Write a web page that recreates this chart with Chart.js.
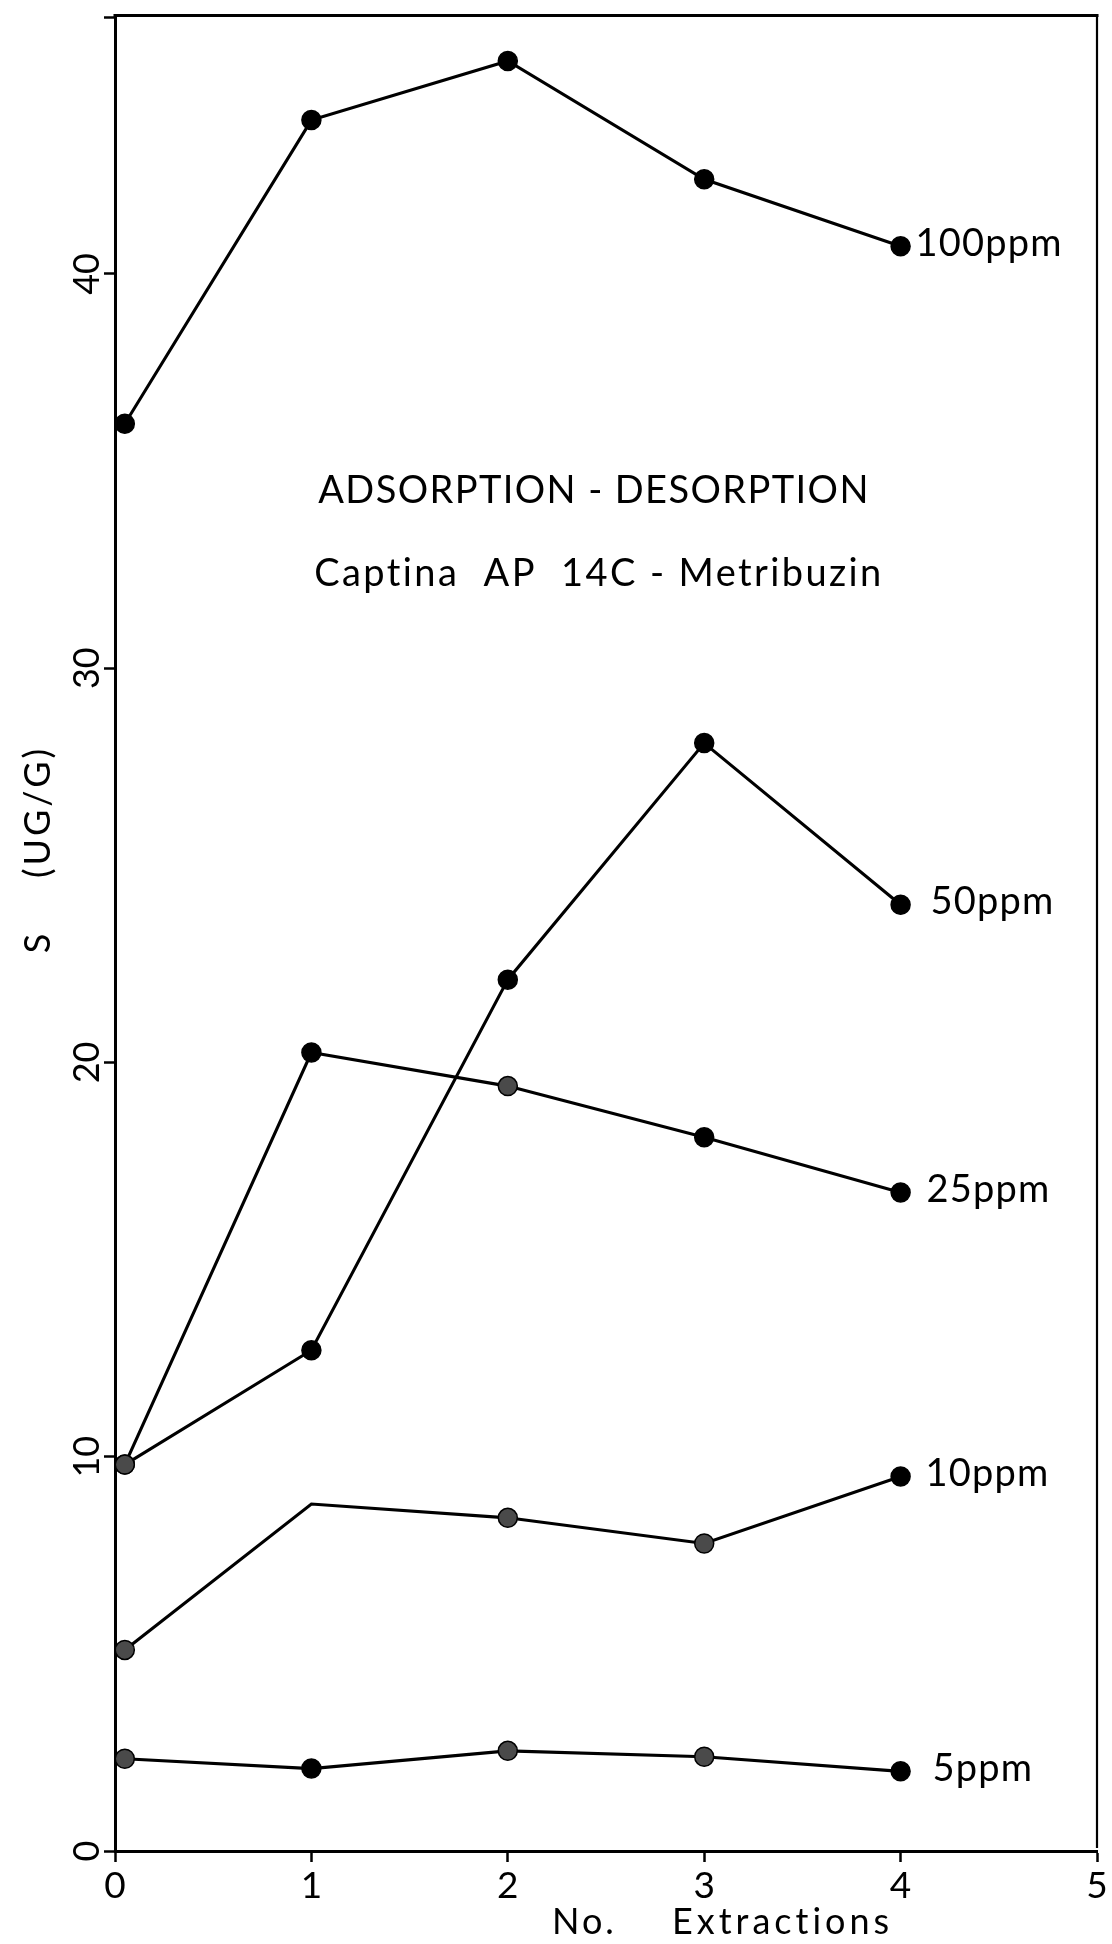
<!DOCTYPE html>
<html>
<head>
<meta charset="utf-8">
<script src="https://cdn.jsdelivr.net/npm/chart.js@4.4.1/dist/chart.umd.min.js"></script>
<style>
  html, body { margin: 0; padding: 0; background: #fff; }
  canvas { display: block; }
</style>
</head>
<body>
<canvas id="chart" width="1112" height="1944"></canvas>
<script>
// Number of extractions (x) and sorbed amount S in ug/g (y) for each initial concentration
const extractions = [0.05, 1, 2, 3, 4];
const seriesNames = ['100ppm', '50ppm', '25ppm', '10ppm', '5ppm'];
const s100ppm = [36.2, 43.9, 45.4, 42.4, 40.7];
const s50ppm  = [9.8, 12.7, 22.1, 28.1, 24.0];
const s25ppm  = [9.8, 20.25, 19.4, 18.1, 16.7];
const s10ppm  = [5.1, 8.8, 8.45, 7.8, 9.5];
const s5ppm   = [2.34, 2.09, 2.54, 2.39, 2.02];
const xTickValues = [0, 1, 2, 3, 4, 5];
const yTickValues = [0, 10, 20, 30, 40];
const yTop = 46.5;

const titleLine1 = 'ADSORPTION - DESORPTION';
const titleLine2 = 'Captina  AP  14C - Metribuzin';
const yAxisTitle = ['S', '(UG/G)'];
const xAxisTitle = ['No.', 'Extractions'];

// marker styling: speckled (grey) markers and the one vertex drawn without a marker
const shadedMarkers = [[], [0], [0, 2], [0, 2, 3], [0, 2, 3]];
const hiddenMarkers = [[], [], [], [1], []];
const labelGap = [15, 30, 26, 25, 32];

const FONT = 'Lato, "DejaVu Sans", sans-serif';
const allSeries = [s100ppm, s50ppm, s25ppm, s10ppm, s5ppm];

const datasets = allSeries.map((vals, si) => ({
  label: seriesNames[si],
  data: extractions.map((x, i) => ({ x: x, y: vals[i] })),
  borderColor: '#000',
  borderWidth: 3.1,
  pointRadius: vals.map((_, i) => hiddenMarkers[si].includes(i) ? 0 : 9.5),
  pointBackgroundColor: vals.map((_, i) => shadedMarkers[si].includes(i) ? '#4a4a4a' : '#000'),
  pointBorderColor: '#000',
  pointBorderWidth: 1.5,
  tension: 0,
  clip: false
}));

// draws the frame, the series names, the in-plot titles and the axis titles
const annotations = {
  id: 'annotations',
  afterDatasetsDraw(chart) {
    const { ctx, chartArea: a } = chart;
    ctx.save();
    ctx.strokeStyle = '#000';
    ctx.lineCap = 'square';
    ctx.lineWidth = 3;
    ctx.beginPath();
    ctx.moveTo(a.left, a.top - 2);
    ctx.lineTo(a.right, a.top - 2);
    ctx.stroke();
    ctx.lineWidth = 2.2;
    ctx.beginPath();
    ctx.moveTo(a.right, a.top - 2);
    ctx.lineTo(a.right, a.bottom - 4);
    ctx.stroke();

    ctx.fillStyle = '#000';
    ctx.font = '38px ' + FONT;
    ctx.letterSpacing = '1.2px';
    ctx.textAlign = 'left';
    ctx.textBaseline = 'middle';
    chart.data.datasets.forEach((ds, si) => {
      const pts = chart.getDatasetMeta(si).data;
      const last = pts[pts.length - 1];
      ctx.fillText(ds.label, last.x + labelGap[si], last.y - 3);
    });

    ctx.textAlign = 'center';
    ctx.font = '38px ' + FONT;
    ctx.letterSpacing = '1.4px';
    ctx.fillText(titleLine1, 594, 491);
    ctx.letterSpacing = '2.4px';
    ctx.fillText(titleLine2, 599, 574);

    ctx.font = '36px ' + FONT;
    ctx.letterSpacing = '3px';
    ctx.textAlign = 'left';
    ctx.fillText(xAxisTitle[0], 552, 1922);
    ctx.letterSpacing = '4px';
    ctx.fillText(xAxisTitle[1], 672, 1922);

    ctx.letterSpacing = '3px';
    ctx.textAlign = 'center';
    ctx.save();
    ctx.translate(38, 942);
    ctx.rotate(-Math.PI / 2);
    ctx.fillText(yAxisTitle[0], 0, 0);
    ctx.restore();
    ctx.save();
    ctx.translate(38, 812);
    ctx.rotate(-Math.PI / 2);
    ctx.fillText(yAxisTitle[1], 0, 0);
    ctx.restore();
    ctx.restore();
  }
};

new Chart(document.getElementById('chart'), {
  type: 'line',
  data: { datasets },
  options: {
    responsive: false,
    animation: false,
    devicePixelRatio: 1,
    layout: { padding: { top: 15, right: 15, left: 0, bottom: 0 } },
    plugins: { legend: { display: false }, tooltip: { enabled: false }, title: { display: false } },
    scales: {
      x: {
        type: 'linear',
        min: 0,
        max: 5,
        afterBuildTicks: s => { s.ticks = xTickValues.map(v => ({ value: v })); },
        afterFit: s => { s.height = 93; },
        border: { display: true, color: '#000', width: 3 },
        grid: { drawOnChartArea: false, drawTicks: true, tickLength: 11, tickColor: '#000', tickWidth: 2.5 },
        ticks: { color: '#000', font: { family: FONT, size: 37 }, padding: 2, maxRotation: 0, minRotation: 0 }
      },
      y: {
        type: 'linear',
        min: 0,
        max: yTop,
        afterBuildTicks: s => { s.ticks = yTickValues.concat([yTop]).map(v => ({ value: v })); },
        afterFit: s => { s.width = 115; },
        border: { display: true, color: '#000', width: 3 },
        grid: { drawOnChartArea: false, drawTicks: true, tickLength: 11, tickColor: '#000', tickWidth: 2.5 },
        ticks: {
          color: '#000',
          font: { family: FONT, size: 36 },
          padding: -4,
          minRotation: 90,
          maxRotation: 90,
          crossAlign: 'center',
          callback: v => yTickValues.includes(v) ? String(v) : ''
        }
      }
    }
  },
  plugins: [annotations]
});
</script>
</body>
</html>
